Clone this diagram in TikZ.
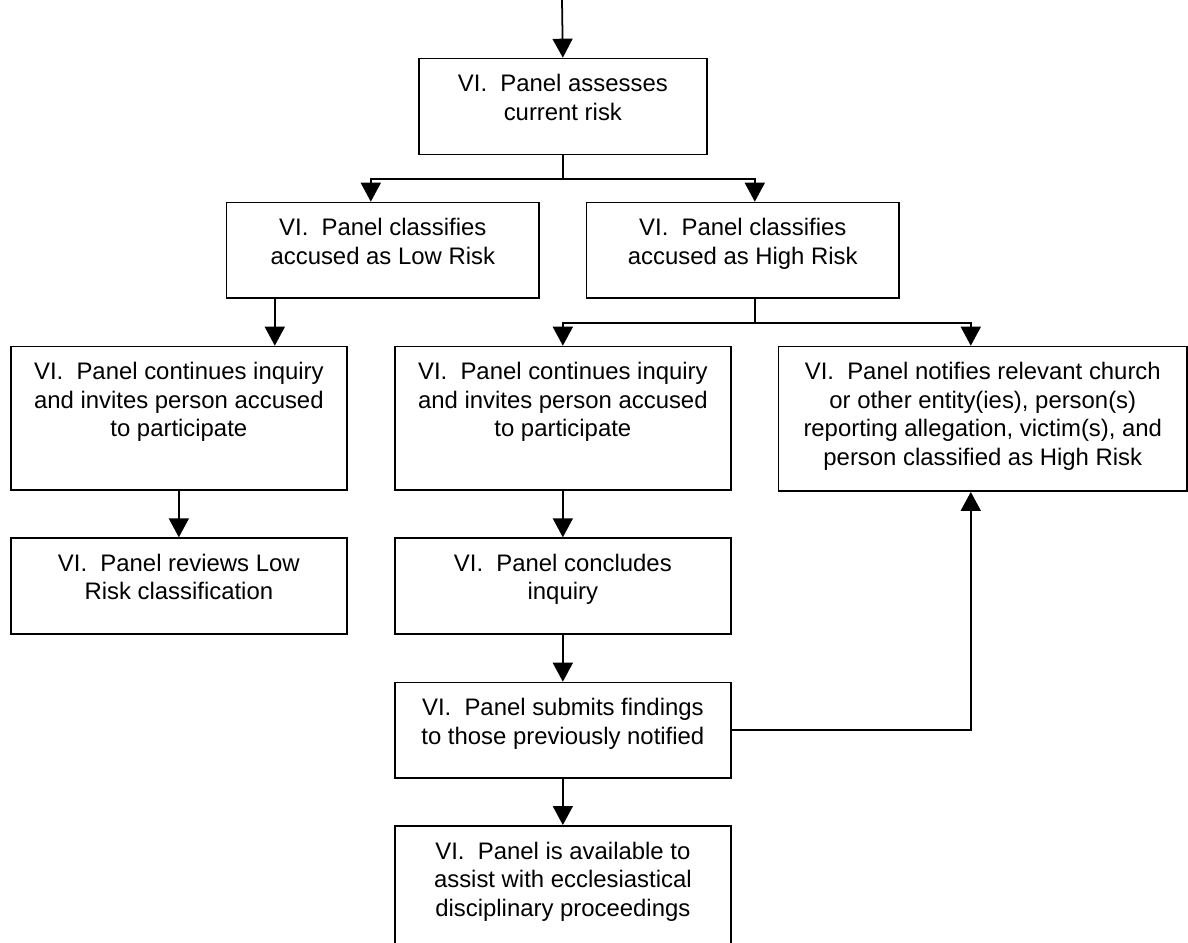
\documentclass[tikz,border=0pt]{standalone}
\usepackage{fontspec}
\setmainfont{Liberation Sans}
\usetikzlibrary{calc,arrows.meta}

\begin{document}
\begin{tikzpicture}[x = 0.02cm, y = -0.02cm,
  stage/.style = {draw, line width = 1pt, anchor = north west, inner sep = 0pt},
  stagetext/.style = {anchor = north, align = center, inner sep = 0pt, label distance = -0.33cm,
    font = \fontsize{13.6}{16.2}\selectfont},
  link/.style = {line width = 1pt},
  flow/.style = {line width = 1pt, -{Triangle[width = 0.4cm, length = 0.38cm]}}]
\useasboundingbox (0, 0) rectangle (1188, 943);
\clip (0, 0) rectangle (1188, 943);
%\draw[very thin, color = gray](0, 0) grid[step = 50] (1188, 943);
\node (assess) at (418, 57.7) [stage, minimum width = 5.76cm, minimum height = 1.92cm,
  label = {[stagetext]north:VI.\ \ Panel assesses\\current risk}] {};
\node (lowrisk) at (225.7, 201.7) [stage, minimum width = 6.25cm, minimum height = 1.91cm,
  label = {[stagetext]north:VI.\ \ Panel classifies\\accused as Low Risk}] {};
\node (highrisk) at (585.7, 201.7) [stage, minimum width = 6.25cm, minimum height = 1.91cm,
  label = {[stagetext]north:VI.\ \ Panel classifies\\accused as High Risk}] {};
\node (lowinq) at (10, 345.7) [stage, minimum width = 6.72cm, minimum height = 2.87cm,
  label = {[stagetext]north:VI.\ \ Panel continues inquiry\\and invites person accused\\to participate}] {};
\node (lowrev) at (10, 537.3) [stage, minimum width = 6.72cm, minimum height = 1.92cm,
  label = {[stagetext]north:VI.\ \ Panel reviews Low\\Risk classification}] {};
\node (highinq) at (394, 345.7) [stage, minimum width = 6.72cm, minimum height = 2.87cm,
  label = {[stagetext]north:VI.\ \ Panel continues inquiry\\and invites person accused\\to participate}] {};
\node (notify) at (777.7, 345.7) [stage, minimum width = 8.17cm, minimum height = 2.89cm,
  label = {[stagetext]north:VI.\ \ Panel notifies relevant church\\or other entity(ies), person(s)\\reporting allegation, victim(s), and\\person classified as High Risk}] {};
\node (conclude) at (394, 537.3) [stage, minimum width = 6.72cm, minimum height = 1.92cm,
  label = {[stagetext]north:VI.\ \ Panel concludes\\inquiry}] {};
\node (submit) at (394, 681.7) [stage, minimum width = 6.72cm, minimum height = 1.91cm,
  label = {[stagetext]north:VI.\ \ Panel submits findings\\to those previously notified}] {};
\node (assist) at (394, 825) [stage, minimum width = 6.72cm, minimum height = 2.8cm,
  label = {[stagetext]north:VI.\ \ Panel is available to\\assist with ecclesiastical\\disciplinary proceedings}] {};
\coordinate (entry) at (562, 0);
\coordinate (split) at ($(assess.south) + (0, 23.3)$);
\coordinate (lowstem) at ($(lowrisk.south) + (-108, 0)$);
\coordinate (highstem) at ($(highrisk.south) + (12, 0)$);
\coordinate (split2) at ($(highstem) + (0, 24)$);
\draw [flow] (entry) -- (assess.north);
\draw [link] (assess.south) -- (split);
\draw [flow] (split) -| ($(lowrisk.north) + (-12, 0)$);
\draw [flow] (split) -| ($(highrisk.north) + (12, 0)$);
\draw [flow] (lowstem) -- (lowstem |- lowinq.north);
\draw [flow] (lowinq.south) -- (lowrev.north);
\draw [link] (highstem) -- (split2);
\draw [flow] (split2) -| (highinq.north);
\draw [flow] (split2) -| ($(notify.north) + (-12, 0)$);
\draw [flow] (highinq.south) -- (conclude.north);
\draw [flow] (conclude.south) -- (submit.north);
\draw [flow] (submit.south) -- (assist.north);
\draw [flow] (submit.east) -| ($(notify.south) + (-12, 0)$);
\end{tikzpicture}
\end{document}
